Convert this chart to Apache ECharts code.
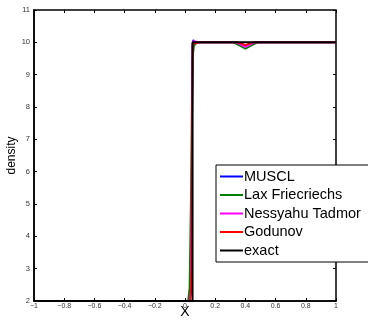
<!DOCTYPE html>
<html><head><meta charset="utf-8">
<script src="https://cdn.jsdelivr.net/npm/echarts@6/dist/echarts.min.js"></script>
<style>html,body{margin:0;padding:0;background:#fff}#c{width:368px;height:323px}</style>
</head><body><div id="c"></div>
<script>
const seriesNames = ['MUSCL','Lax Friecriechs','Nessyahu Tadmor','Godunov','exact'];
const colors = ['#0000ff','#008000','#ff00ff','#ff0000','#000000'];
const xTicks = [-1,-0.8,-0.6,-0.4,-0.2,0,0.2,0.4,0.6,0.8,1];
const yTicks = [2,3,4,5,6,7,8,9,10,11];

const musclX = [-1, 0.03, 0.04, 0.045, 0.05, 0.055, 0.06, 0.1, 0.34, 0.37, 0.4, 0.43, 0.46, 1];
const musclY = [2, 2, 2.3, 6, 9.9, 10.08, 10.0, 10, 10, 9.94, 9.88, 9.94, 10, 10];
const laxX = [-1, 0.02, 0.03, 0.04, 0.045, 0.05, 0.06, 0.08, 0.32, 0.36, 0.4, 0.44, 0.48, 1];
const laxY = [2, 2, 2.4, 5.5, 8.0, 9.5, 9.9, 10, 10, 9.9, 9.8, 9.9, 10, 10];
const ntX = [-1, 0.03, 0.04, 0.045, 0.05, 0.055, 0.06, 0.1, 0.34, 0.37, 0.4, 0.43, 0.46, 1];
const ntY = [2, 2, 2.3, 6.5, 9.95, 10.04, 10.0, 10, 10, 9.93, 9.86, 9.93, 10, 10];
const godX = [-1, 0.035, 0.043, 0.048, 0.052, 0.06, 0.1, 0.35, 0.38, 0.4, 0.42, 0.45, 1];
const godY = [2, 2, 3.0, 8.0, 9.95, 10, 10, 10, 9.95, 9.91, 9.95, 10, 10];
const exactX = [-1, 0.05, 0.05, 1];
const exactY = [2, 2, 10, 10];

const xs = [musclX, laxX, ntX, godX, exactX];
const ys = [musclY, laxY, ntY, godY, exactY];

const chart = echarts.init(document.getElementById('c'));
const fmt = v => (v === 0 ? '0' : String(v).replace('-', '\u2212'));
const tickStyle = {show:true, inside:true, length:3, lineStyle:{color:'#000', width:1}};
chart.setOption({
  animation:false,
  backgroundColor:'#fff',
  textStyle:{fontFamily:'Liberation Sans, Arial, sans-serif'},
  grid:{left:34, right:32, top:10, bottom:22, outerBoundsMode:'none', containLabel:false,
        show:true, borderColor:'#000', borderWidth:1.5, backgroundColor:'transparent'},
  legend:{
    orient:'vertical', left:216, top:165, width:200,
    backgroundColor:'#fff', borderColor:'#000', borderWidth:1,
    padding:[4,20,4,4], itemGap:3.5, itemWidth:23, itemHeight:2, icon:'rect',
    textStyle:{fontSize:14.5, color:'#000', padding:[0,0,0,-4]},
    data: seriesNames
  },
  xAxis:[{
    type:'value', min:-1, max:1, interval:0.2,
    name:'X', nameLocation:'middle', nameGap:4, nameMoveOverlap:false,
    nameTextStyle:{fontSize:14, color:'#000'},
    axisLine:{show:true, onZero:false, lineStyle:{color:'#000', width:1.5}},
    axisTick:tickStyle,
    axisLabel:{fontSize:7, color:'#333', margin:2, formatter:fmt},
    splitLine:{show:false}
  },{
    type:'value', min:-1, max:1, interval:0.2, position:'top',
    axisLine:{show:false, onZero:false}, axisTick:tickStyle, axisLabel:{show:false}, splitLine:{show:false}
  }],
  yAxis:[{
    type:'value', min:2, max:11, interval:1,
    name:'density', nameLocation:'middle', nameGap:16, nameMoveOverlap:false,
    nameTextStyle:{fontSize:12, color:'#000'},
    axisLine:{show:true, onZero:false, lineStyle:{color:'#000', width:1.5}},
    axisTick:tickStyle,
    axisLabel:{fontSize:7.5, color:'#333', margin:4},
    splitLine:{show:false}
  },{
    type:'value', min:2, max:11, interval:1, position:'right',
    axisLine:{show:false, onZero:false}, axisTick:tickStyle, axisLabel:{show:false}, splitLine:{show:false}
  }],
  series: seriesNames.map((n,i)=>({
    name:n, type:'line', showSymbol:false, symbol:'none',
    data: xs[i].map((x,j)=>[x, ys[i][j]]),
    lineStyle:{color:colors[i], width: i===4 ? 2 : 1.8},
    itemStyle:{color:colors[i]},
    z: i===4 ? 3 : 2
  }))
});
</script></body></html>
